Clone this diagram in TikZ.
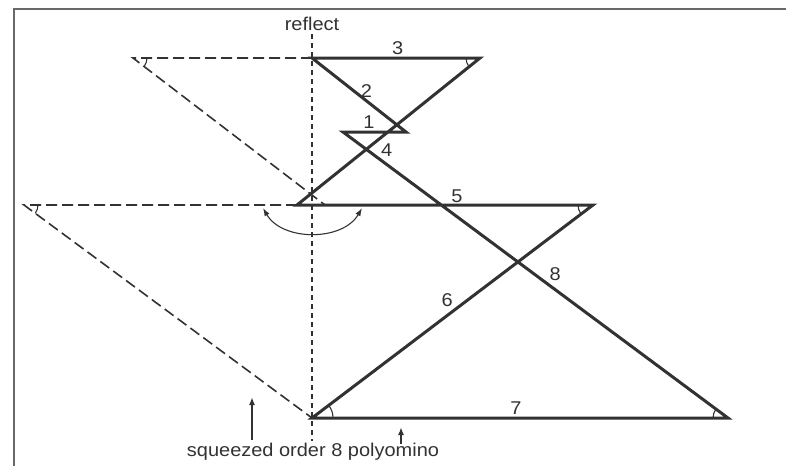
\documentclass[tikz,border=0pt]{standalone}
\usepackage{fontspec}
\newfontfamily\figfont[FakeStretch=1.08]{Liberation Sans}
\usepackage{xcolor}
\usepackage{tikz}
\usetikzlibrary{arrows.meta,positioning,angles}
\definecolor{ink}{RGB}{50,50,50}
\definecolor{rule}{RGB}{105,105,105}

\begin{document}
\begin{tikzpicture}[
    x=1pt, y=-1pt,
    >={Latex[length=8pt,width=6pt]},
    font=\figfont\fontsize{18.5}{22}\selectfont,
    edge/.style={draw=ink, line width=3pt},
    ghost/.style={draw=ink, line width=1.6pt, dash pattern=on 11pt off 5pt},
    mirror/.style={draw=ink, line width=1.1pt, dash pattern=on 5pt off 4pt},
    anglemark/.style={draw=ink, line width=1.1pt, angle radius=#1},
    anglemark/.default=14pt,
    num/.style={text=ink, inner sep=2pt},
    pointer/.style={->, draw=ink, line width=1.6pt}
]
\useasboundingbox (0,0) rectangle (786,466);
\draw[rule, line width=1.5pt] (786,9) -- (14,9) -- (14,466);

% corners of the polyomino
\coordinate (A) at (343,132);
\coordinate (B) at (406,132);
\coordinate (C) at (312,58);
\coordinate (D) at (480,58);
\coordinate (E) at (297,205);
\coordinate (F) at (593,205);
\coordinate (G) at (312,418);
\coordinate (H) at (728,418);
% reflected corners
\coordinate (Cr) at (133,58);
\coordinate (Er) at (325,205);
\coordinate (Fr) at (24,205);

\node[text=ink] (reflect) at (312,24) {reflect};
\coordinate (axisend) at (312,441);
\draw[mirror] (reflect.south) -- (axisend);

\draw[ghost] (C) -- (Cr) -- (Er);
\draw[ghost] (E) -- (Fr) -- (G);

\draw[edge] (A) -- node[num, above, pos=0.41] {1} (B)
  -- node[num, above, pos=0.42] {2} (C)
  -- node[num, above, pos=0.51] {3} (D)
  -- node[num, below right, pos=0.56] {4} (E)
  -- node[num, above, pos=0.54, inner sep=1pt] {5} (F)
  -- node[num, above left, pos=0.49, inner sep=1pt] {6} (G)
  -- node[num, above, pos=0.49] {7} (H)
  -- node[num, above right, pos=0.47, inner sep=1pt] {8} cycle;

\pic[anglemark] {angle = C--D--E};
\pic[anglemark] {angle = Er--Cr--C};
\pic[anglemark=15pt] {angle = E--F--G};
\pic[anglemark] {angle = G--Fr--E};
\pic[anglemark=15pt] {angle = A--H--G};
\pic[anglemark=21pt] {angle = H--G--F};

\coordinate (swingL) at (263,208);
\coordinate (swingR) at (362,208);
\draw[{Latex[length=8pt,width=5.5pt]}-{Latex[length=8pt,width=5.5pt]}, ink, line width=1.1pt]
  (swingL) to[bend right=60] (swingR);

\node[text=ink] (caption) at (313,452) {squeezed order 8 polyomino};
\coordinate (tailA) at (252,440);
\coordinate (headA) at (252,397);
\coordinate (tailB) at (401,444);
\coordinate (headB) at (401,427);
\draw[pointer] (tailA) -- (headA);
\draw[pointer] (tailB) -- (headB);
\end{tikzpicture}
\end{document}
